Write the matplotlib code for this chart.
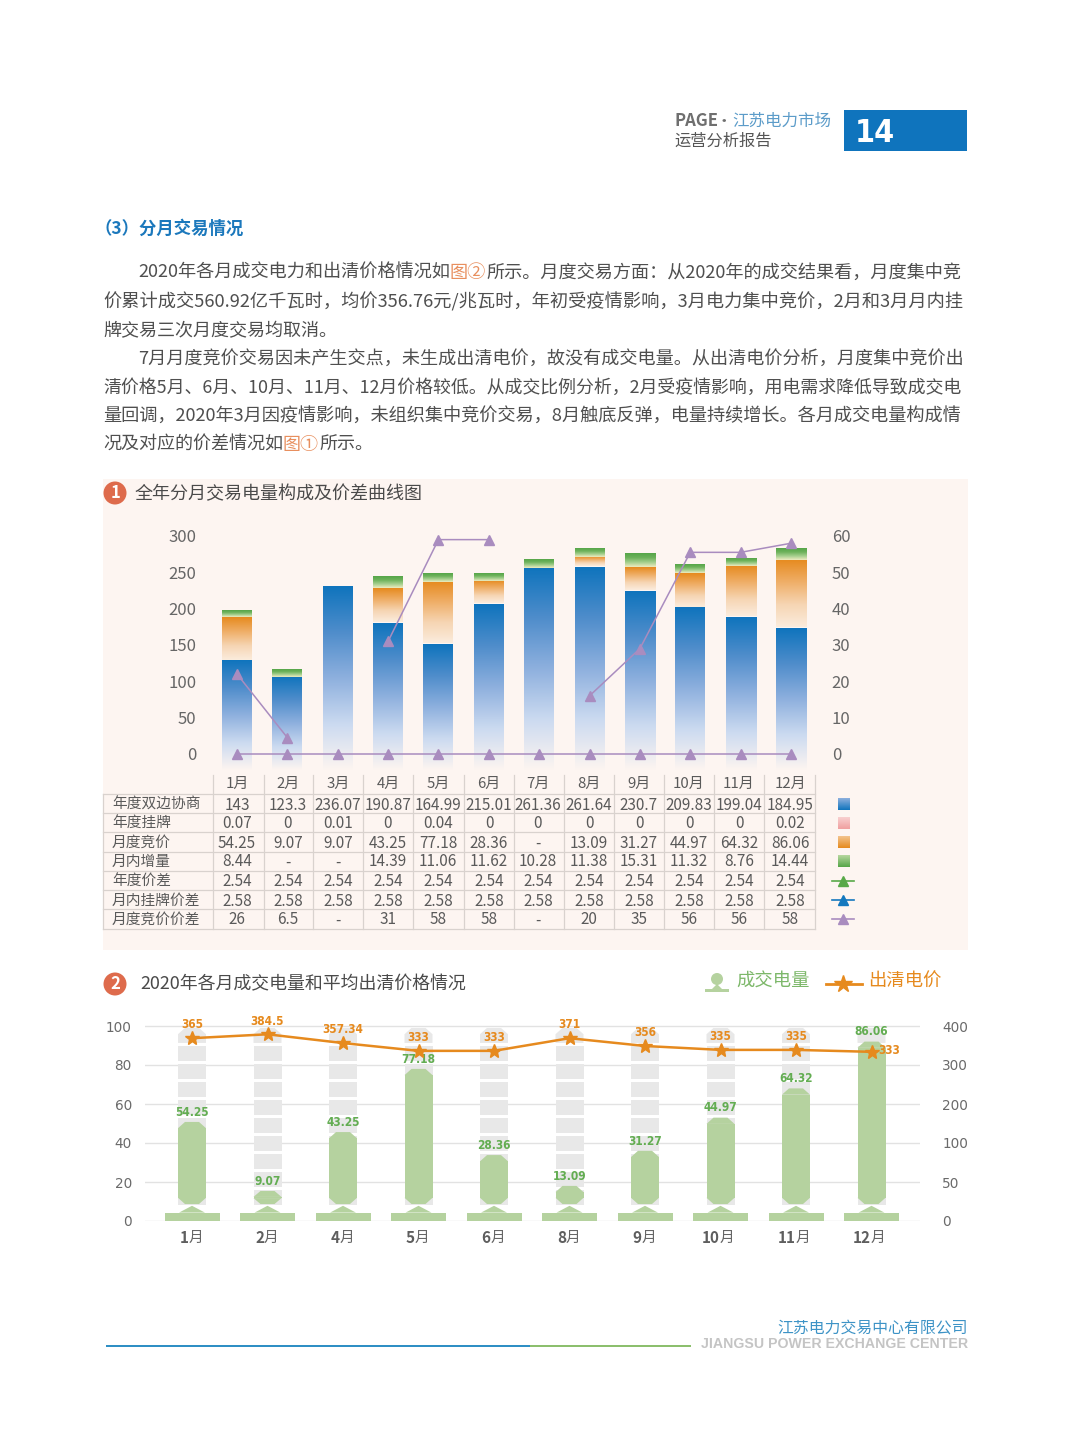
import numpy as np
import matplotlib
matplotlib.use("Agg")
import matplotlib.pyplot as plt
from matplotlib.colors import LinearSegmentedColormap
from matplotlib import font_manager as fm

CJK = ['Noto Sans CJK SC', 'DejaVu Sans']
plt.rcParams['font.family'] = CJK

def narrow_font(size):
    cands = []
    for f in fm.fontManager.ttflist:
        key = (f.fname + ' ' + f.name).lower()
        st = str(f.stretch).lower()
        if 'condensed' in key or 'narrow' in key or 'condensed' in st:
            bold = 'bold' in key or str(f.weight) in ('bold', '700')
            cands.append((0 if bold else 1, f.fname))
    if cands:
        return fm.FontProperties(fname=sorted(cands)[0][1], size=size), True
    return fm.FontProperties(family='Roboto', weight='bold', size=size*0.8), False

# ---------- data: chart 1 ----------
months = ['1月','2月','3月','4月','5月','6月','7月','8月','9月','10月','11月','12月']
blue_h = [128,106,231,180,151,206,256,257,224,201,188,173]
orange_h = [60,0,0,48,86,32,0,14,33,48,71,94]
green_h = [9,10,0,16,12,11,12,12,18,12,11,16]
spread_m = [22,4.5,None,31,59,59,None,16,29,55.5,55.5,58]
spread_zero = [0]*12

row_names = ['年度双边协商','年度挂牌','月度竞价','月内增量','年度价差','月内挂牌价差','月度竞价价差']
r_bilateral = ['143','123.3','236.07','190.87','164.99','215.01','261.36','261.64','230.7','209.83','199.04','184.95']
r_listed = ['0.07','0','0.01','0','0.04','0','0','0','0','0','0','0.02']
r_auction = ['54.25','9.07','9.07','43.25','77.18','28.36','-','13.09','31.27','44.97','64.32','86.06']
r_intra = ['8.44','-','-','14.39','11.06','11.62','10.28','11.38','15.31','11.32','8.76','14.44']
r_annual_sp = ['2.54']*12
r_intra_sp = ['2.58']*12
r_auction_sp = ['26','6.5','-','31','58','58','-','20','35','56','56','58']
rows = [r_bilateral, r_listed, r_auction, r_intra, r_annual_sp, r_intra_sp, r_auction_sp]

# ---------- data: chart 2 ----------
months2 = ['1','2','4','5','6','8','9','10','11','12']
vol_drawn = [50.8,15.4,45.6,78,33.8,18,36,53,68,92]
vol_label = ['54.25','9.07','43.25','77.18','28.36','13.09','31.27','44.97','64.32','86.06']
price_drawn = [375,383,365,349,349,375,359,351,351,347]
price_label = ['365','384.5','357.34','333','333','371','356','335','335','333']
right_tick_labels = ['0','50','100','200','300','400']

para = [
 (138, [("2020年各月成交电力和出清价格情况如",'t'),("图②",'o'),("所示。月度交易方面：从2020年的成交结果看，月度集中竞",'t')], 271, True),
 (103, [("价累计成交560.92亿千瓦时，均价356.76元/兆瓦时，年初受疫情影响，3月电力集中竞价，2月和3月月内挂",'t')], 300, True),
 (103, [("牌交易三次月度交易均取消。",'t')], 329, False),
 (138, [("7月月度竞价交易因未产生交点，未生成出清电价，故没有成交电量。从出清电价分析，月度集中竞价出",'t')], 357, True),
 (103, [("清价格5月、6月、10月、11月、12月价格较低。从成交比例分析，2月受疫情影响，用电需求降低导致成交电",'t')], 386, True),
 (103, [("量回调，2020年3月因疫情影响，未组织集中竞价交易，8月触底反弹，电量持续增长。各月成交电量构成情",'t')], 414, True),
 (103, [("况及对应的价差情况如",'t'),("图①",'o'),("所示。",'t')], 443, False),
]

W, H = 1080, 1456
BG = '#FDF5F1'
BLUE = '#0F74BD'
ORANGE = '#E68A1E'
GREEN = '#6DB25B'
PURPLE = '#A98CBF'
TXT = '#4A4A4A'
DY = 2

fig = plt.figure(figsize=(W/100, H/100), dpi=100, facecolor='white')
bg = fig.add_axes([0,0,1,1], zorder=0)
bg.set_xlim(0,W); bg.set_ylim(H,0); bg.axis('off')
rend = fig.canvas.get_renderer()

def T(x, y, s, **kw):
    kw.setdefault('va','center'); kw.setdefault('ha','left')
    return bg.text(x, y+DY, s, **kw)

def seq(x, y, pieces, size, **kw):
    for s, c in pieces:
        t = T(x, y, s, color=c, fontsize=size, **kw)
        x += t.get_window_extent(rend).width
    return x

def axes_px(l, r, top, bottom):
    return [l/W, 1-bottom/H, (r-l)/W, (bottom-top)/H]

def rect(x0, y0, x1, y1, c, z=1):
    bg.fill([x0,x1,x1,x0],[y0,y0,y1,y1], color=c, lw=0, zorder=z)

# ---------- page furniture ----------
seq(674, 119, [("PAGE",'#6F6F6F')], 12, weight='bold')
seq(716, 119, [("·",'#6F6F6F'),("江苏电力市场",'#5C9CC9')], 11.9)
seq(674, 139, [("运营分析报告",'#555555')], 11.7)
rect(844,110,967,151,BLUE)
fp14, is_narrow = narrow_font(23)
T(855,131,"14",color='white',fontproperties=fp14)
T(94,227,"（3）分月交易情况",color='#1B78BC',fontsize=12.5,weight='bold')

cmap = {'t':'#4F4F4F','o':'#E88F5E'}
base = 13.0
for x, pieces, y, just in para:
    size = base
    if just:
        tot = 0
        for s,_ in pieces:
            t = bg.text(0,0,s,fontsize=base); tot += t.get_window_extent(rend).width; t.remove()
        size = base*(961.5-x)/tot
    seq(x, y, [(s,cmap[c]) for s,c in pieces], size)

# panel 1
rect(103,479,968,950,BG)
bg.add_patch(plt.Circle((115,493),11.5,color='#DE6B4C',lw=0,zorder=2))
bg.text(115,493,"1",color='white',fontsize=12,weight='bold',ha='center',va='center',zorder=3)
T(135,492,"全年分月交易电量构成及价差曲线图",color=TXT,fontsize=13)

# panel 2 header
bg.add_patch(plt.Circle((115,984),11.5,color='#DE6B4C',lw=0,zorder=2))
bg.text(115,984,"2",color='white',fontsize=12,weight='bold',ha='center',va='center',zorder=3)
T(140,982,"2020年各月成交电量和平均出清价格情况",color=TXT,fontsize=12.9)
bg.add_patch(plt.Circle((717,979),6,color='#B5D29F',lw=0))
bg.fill([705,712,717,722,729,729,705],[989,989,984,989,989,992,992],color='#B5D29F',lw=0)
T(736,980,"成交电量",color='#7DB86A',fontsize=13.2)
bg.plot([826,862],[984,984],color=ORANGE,lw=2)
bg.plot([843],[984],marker='*',ms=13,color=ORANGE,mec=ORANGE)
T(868,980,"出清电价",color=ORANGE,fontsize=13.2)

# footer
rect(106,1345,530,1347,'#2F8FC4')
rect(530,1345,691,1347,'#8CBF6D')
T(968,1326,"江苏电力交易中心有限公司",color='#3D93C6',fontsize=11.4,ha='right')
T(968,1342,"JIANGSU POWER EXCHANGE CENTER",color='#C4C4C4',fontsize=10.2,weight='bold',ha='right',family=['Liberation Sans','DejaVu Sans'])

# ---------- chart 1 ----------
ax1 = fig.add_axes(axes_px(213,815,530,775), zorder=1)
ax1.patch.set_visible(False)
x = np.arange(len(months))
xlim1 = ((213-237)/50.36, (815-237)/50.36)
ylim1 = ((754-775)/0.7267, (754-530)/0.7267)
w = 30/50.36
grad = np.linspace(0,1,256).reshape(-1,1)
def vgrad(xc, lo, hi, cols):
    cm = LinearSegmentedColormap.from_list('g', cols)
    ax1.imshow(grad, cmap=cm, extent=(xc-w/2, xc+w/2, lo, hi), aspect='auto', origin='upper', vmin=0, vmax=1, zorder=2, interpolation='bilinear')

blue_cols = ['#0F74BD','#4F8DCB','#8EB0DE','#CBDAF0', BG]
orange_cols = ['#E68A1E','#EFAE67','#F6D5B3','#FBECDD']
green_cols = ['#55A548','#6DB25B','#A5CF8E','#EFEBC0']
for i in x:
    b, o, g = blue_h[i], orange_h[i], green_h[i]
    ax1.bar(i, b, w, color='none', lw=0)
    vgrad(i, -22, b, blue_cols)
    if o:
        ax1.bar(i, o, w, bottom=b, color='none', lw=0)
        vgrad(i, b+1.5, b+o, orange_cols)
    if g:
        ax1.bar(i, g, w, bottom=b+o, color='none', lw=0)
        vgrad(i, b+o, b+o+g, green_cols)
ax1.set_xlim(*xlim1); ax1.set_ylim(*ylim1)
ax1.set_xticks([]); ax1.set_yticks(range(0,301,50))
ax1.tick_params(axis='y', length=0, pad=12, labelsize=12, labelcolor='#666666')
for s in ax1.spines.values(): s.set_visible(False)

ax1r = ax1.twinx()
ax1r.patch.set_visible(False)
ax1r.set_ylim(ylim1[0]/5, ylim1[1]/5)
ax1r.set_yticks(range(0,61,10))
ax1r.tick_params(axis='y', length=0, pad=12, labelsize=12, labelcolor='#666666')
for s in ax1r.spines.values(): s.set_visible(False)
sm = np.array([np.nan if v is None else v for v in spread_m], float)
ax1r.plot(x, sm, color=PURPLE, lw=1.1, marker='^', ms=7, mfc=PURPLE, mec=PURPLE, zorder=5)
ax1r.plot(x, spread_zero, color=PURPLE, lw=1.1, marker='^', ms=7, mfc=PURPLE, mec=PURPLE, zorder=5)
ax1r.set_xlim(*xlim1)

# ---------- table ----------
col_edges = [213,264,313,363,413,464,514,564,614,664,714,764,815]
row_edges = [794,813,832,852,871,890,909,929]
col_c = [237,288,338,388,438,489,538,589,639,689,739,790]
row_c = [803,822,841,860,880,899,918]
LINE = '#D9D2CE'
for e in row_edges:
    bg.plot([103,815],[e,e],color=LINE,lw=0.9,zorder=1)
for e in col_edges:
    bg.plot([e,e],[775,929],color=LINE,lw=0.9,zorder=1)
bg.plot([103,103],[794,929],color=LINE,lw=0.9,zorder=1)
for c, m in zip(col_c, months):
    T(c,782,m,color='#5A5A5A',fontsize=10.8,ha='center')
for name, y, vals in zip(row_names,row_c,rows):
    T(112,y,name,color='#5A5A5A',fontsize=10.6)
    for c, v in zip(col_c, vals):
        T(c,y,v,color='#5A5A5A',fontsize=11,ha='center')

sw = [('#0F74BD','#8EB0DE'),('#F0A0A0','#F8D0D0'),('#E68A1E','#F3C48E'),('#55A548','#B8D8A0')]
for y,(c0,c1) in zip(row_c[:4],sw):
    cm = LinearSegmentedColormap.from_list('s',[c0,c1])
    bg.imshow(grad,cmap=cm,extent=(838,850,y+7,y-5),aspect='auto',origin='lower',zorder=2)
bg.set_xlim(0,W); bg.set_ylim(H,0)
for y,c in zip(row_c[4:],['#58A948','#1478BE',PURPLE]):
    bg.plot([832,854],[y+1,y+1],color=c,lw=1.2)
    bg.plot([843],[y+1],marker='^',ms=6.5,color=c)

# ---------- chart 2 ----------
ax2 = fig.add_axes(axes_px(145,920,1012,1221), zorder=1)
ax2.patch.set_visible(False)
X = np.arange(len(months2))
PX = 75.5; UNIT = 1.95
ax2.set_xlim((145-192)/PX,(920-192)/PX)
ymax = (1221-1012)/UNIT
ax2.set_ylim(0,ymax)
ax2.set_yticks(range(0,101,20))
ax2.grid(axis='y',color='#E2E2E2',lw=1)
ax2.set_axisbelow(True)
ax2.set_xticks([])
ax2.tick_params(axis='y',length=0,pad=9.5,labelsize=9.8,labelcolor='#6A6A6A',labelfontfamily='DejaVu Sans')
for s in ax2.spines.values(): s.set_visible(False)

PILL = '#B5D29F'; TRACK = '#E8E8E8'
bw = 28/PX; plate = 55/PX
pill_lo = 8.7; track_top = 99
seg_step = 18/UNIT; seg_h = 15/UNIT
ch_x = 7/PX; ch_y = 3.2
fp_lab, _ = narrow_font(8.6)
for i in X:
    ax2.fill([i-bw/2,i-bw/2+ch_x,i+bw/2-ch_x,i+bw/2,i+bw/2,i-bw/2],
             [track_top-ch_y,track_top,track_top,track_top-ch_y,track_top-seg_h,track_top-seg_h],
             color=TRACK,lw=0,zorder=1.5)
    tops = np.arange(track_top-seg_step,pill_lo,-seg_step)
    ax2.bar([i]*len(tops),[seg_h]*len(tops),bw,bottom=tops-seg_h,color=TRACK,lw=0,zorder=1.5)
    t = vol_drawn[i]; cy = min(ch_y,(t-pill_lo)/2.2)
    ax2.bar(i,t-cy-pill_lo-cy,bw,bottom=pill_lo+cy,color=PILL,lw=0,zorder=2)
    ax2.fill([i-bw/2,i-bw/2+ch_x,i+bw/2-ch_x,i+bw/2],[t-cy,t,t,t-cy],color=PILL,lw=0,zorder=2)
    ax2.fill([i-bw/2,i-bw/2+ch_x,i+bw/2-ch_x,i+bw/2],[pill_lo+cy,pill_lo,pill_lo,pill_lo+cy],color=PILL,lw=0,zorder=2)
    ax2.bar(i,4.3,plate,color=PILL,lw=0,zorder=2)
    ax2.fill([i-13/PX,i,i+13/PX],[4.3,7.8,4.3],color=PILL,lw=0,zorder=2)
    ax2.annotate(vol_label[i],(i,t),xytext=(0,7),textcoords='offset points',ha='center',va='center',
                 color='#63AD52',fontproperties=fp_lab,zorder=6)
    n = len(months2[i])
    ax2.annotate(months2[i],(i,0),xytext=(-2.5+2*(n-1),-12.5),textcoords='offset points',ha='right',va='center',
                 annotation_clip=False,color='#5E5E5E',fontsize=11,weight='bold',family='Noto Sans CJK SC')
    ax2.annotate('月',(i,0),xytext=(-2.5+2*(n-1),-12.5),textcoords='offset points',ha='left',va='center',
                 annotation_clip=False,color='#666666',fontsize=10.5,family='Noto Sans CJK SC')

ax2r = ax2.twinx()
ax2r.patch.set_visible(False)
ax2r.set_ylim(0,ymax*4)
ax2r.set_yticks(np.arange(0,401,80), right_tick_labels)
ax2r.tick_params(axis='y',length=0,pad=16,labelsize=9.8,labelcolor='#6A6A6A',labelfontfamily='DejaVu Sans')
for s in ax2r.spines.values(): s.set_visible(False)
ax2r.plot(X,price_drawn,color=ORANGE,lw=1.8,marker='*',ms=10.5,mfc=ORANGE,mec=ORANGE,zorder=5)
for i in X:
    off = (13,1) if i == len(X)-1 else (0,9.5)
    ax2r.annotate(price_label[i],(i,price_drawn[i]),xytext=off,textcoords='offset points',ha='center',va='center',
                  color=ORANGE,fontproperties=fp_lab,zorder=6)

fig.savefig('out.png',dpi=100,facecolor='white')
